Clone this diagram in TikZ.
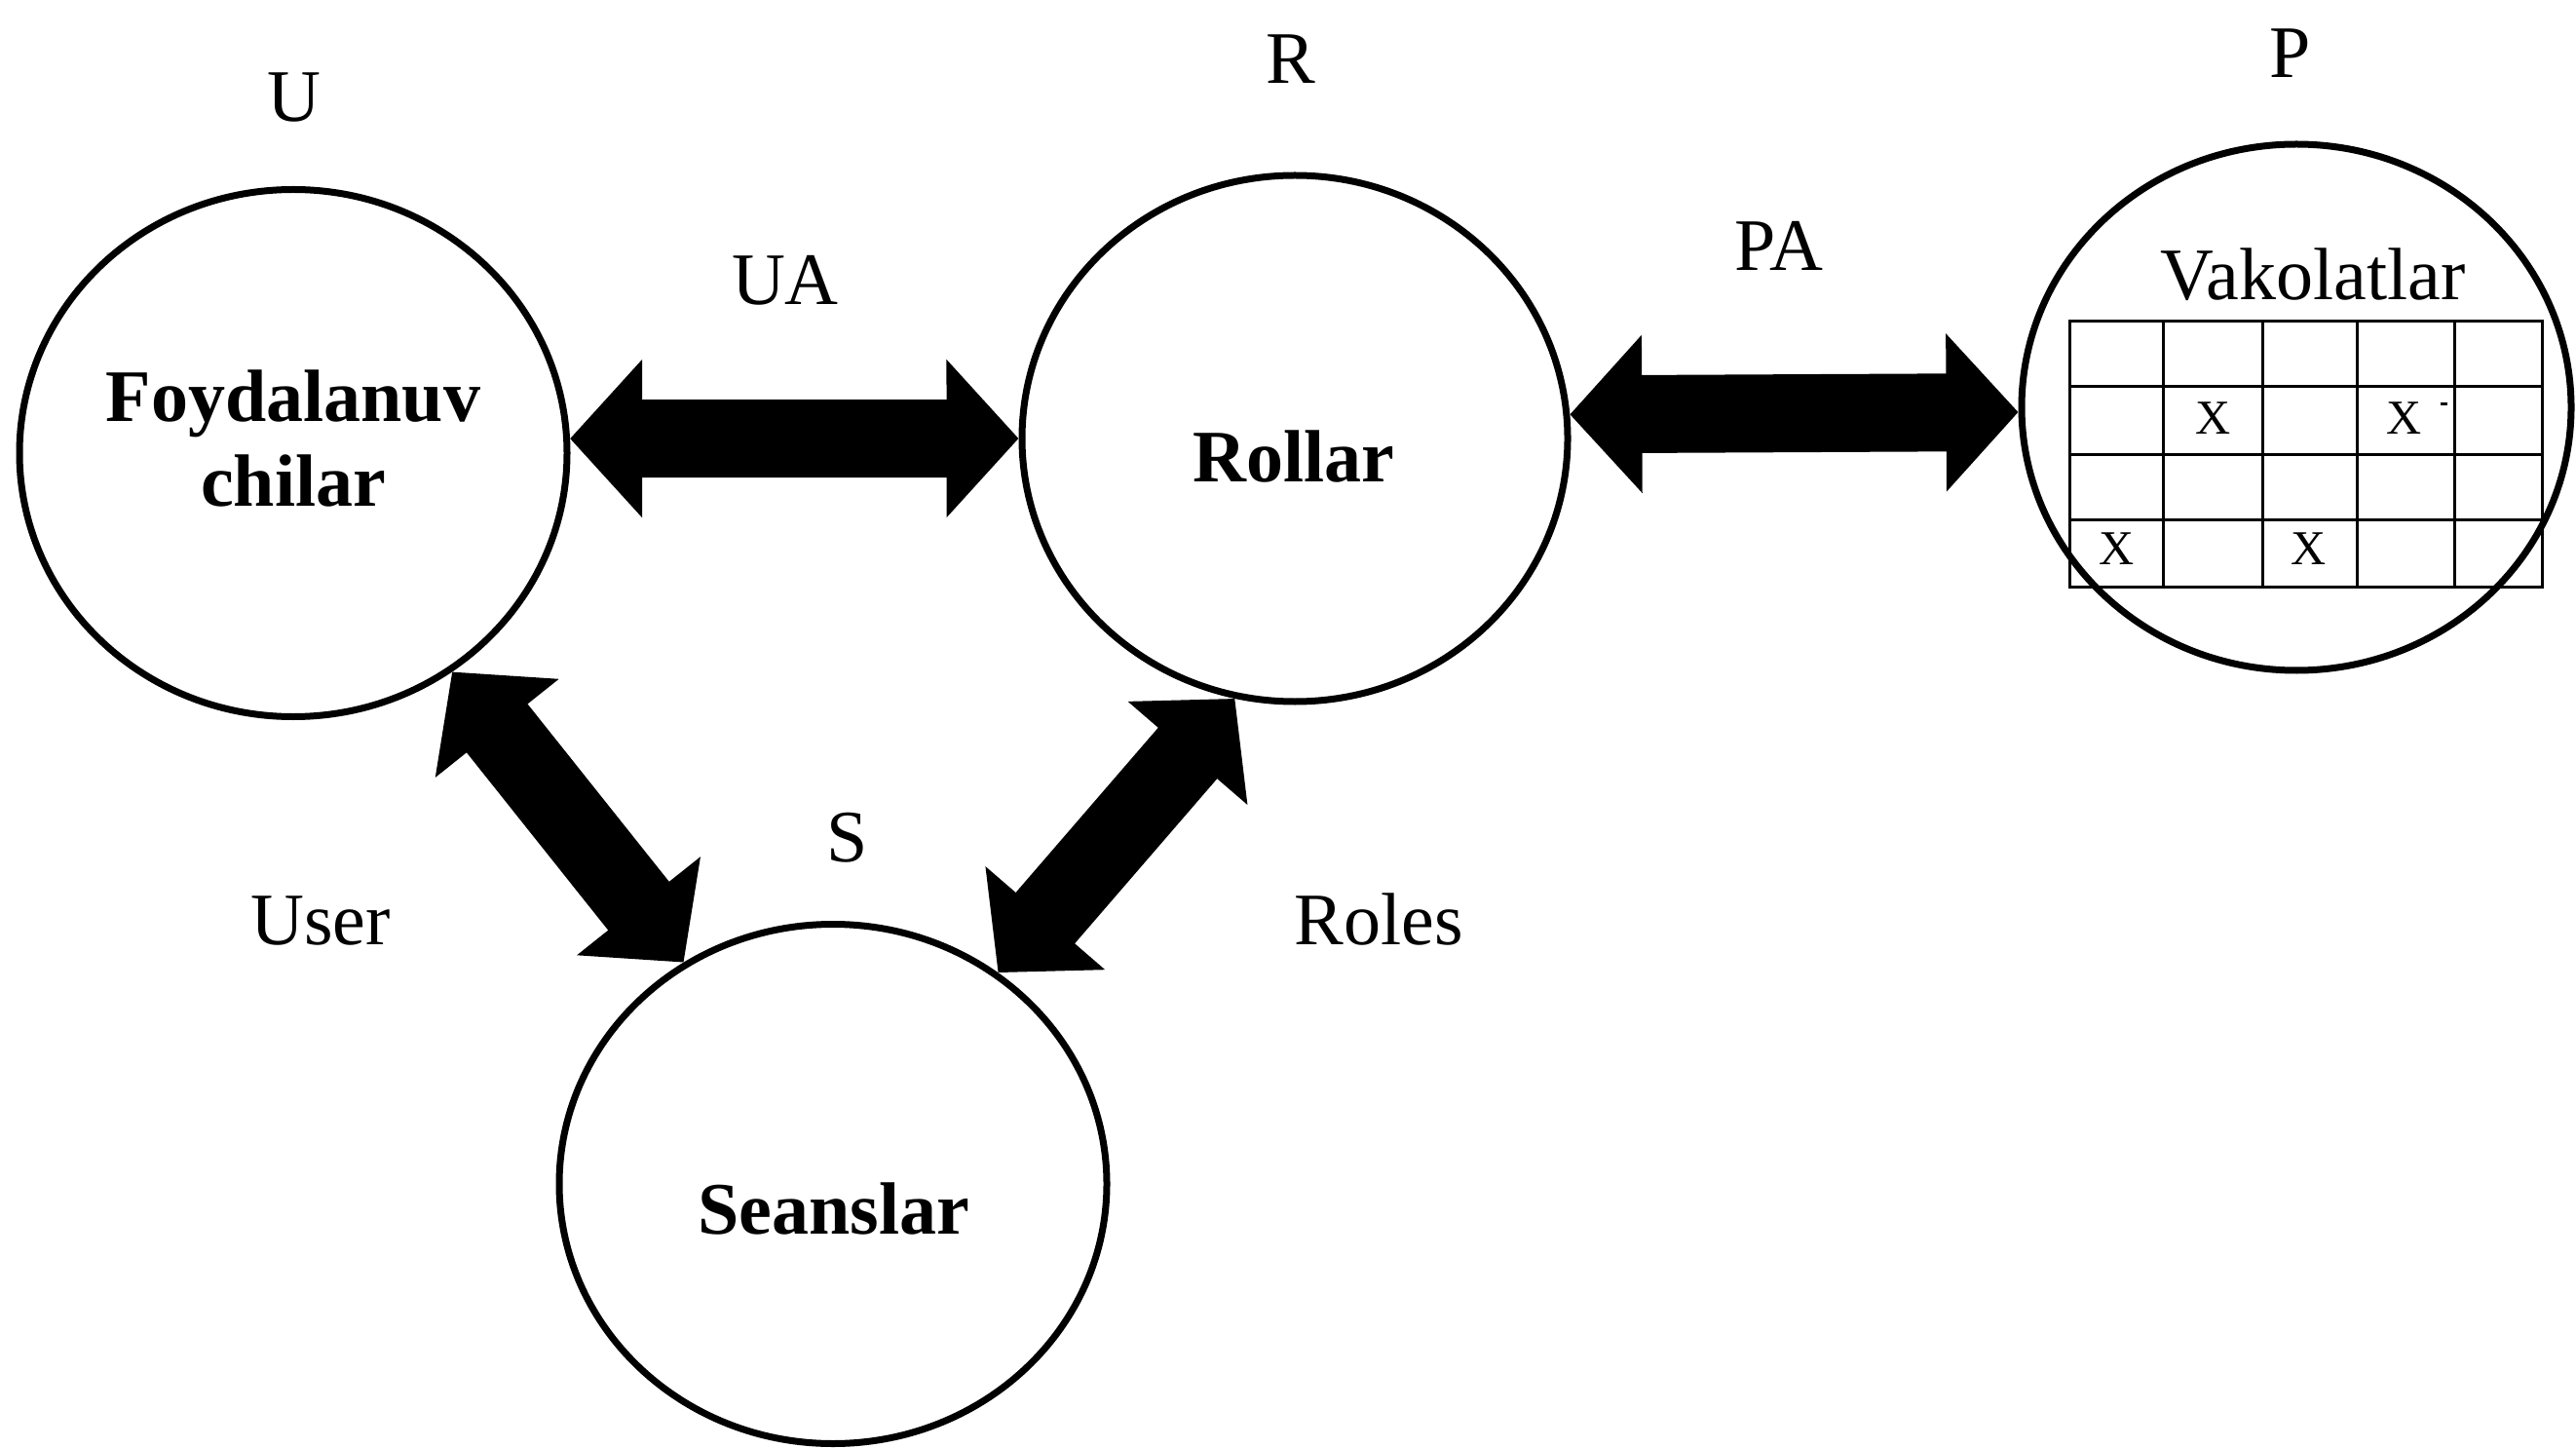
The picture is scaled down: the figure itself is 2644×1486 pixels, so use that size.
\documentclass[tikz,border=0pt]{standalone}
\usepackage{fontspec}
\setmainfont{Liberation Serif}
\usetikzlibrary{shapes.geometric, arrows.meta}
\begin{document}
\begin{tikzpicture}[x=0.25pt, y=-0.25pt,
  ent/.style={ellipse, draw, line width=1.75pt, inner sep=0pt},
  lbl/.style={font=\fontsize{19pt}{22pt}\selectfont, inner sep=0pt, anchor=base},
  bld/.style={font=\fontsize{19pt}{22pt}\selectfont\bfseries, inner sep=0pt, anchor=base},
  xmark/.style={font=\fontsize{12.5pt}{14pt}\selectfont, inner sep=0pt, anchor=base},
  blockarrow/.style={line width=20pt, {Triangle[length=18.5pt, width=39.5pt]}-{Triangle[length=18.5pt, width=39.5pt]}},
  gridline/.style={line width=0.75pt}
]
\useasboundingbox (0,0) rectangle (2644,1486);

% entities
\node[ent, minimum width=140.5pt, minimum height=135.25pt] (U) at (301,465) {};
\node[ent, minimum width=140pt, minimum height=135pt] (R) at (1329,450) {};
\node[ent, minimum width=141pt, minimum height=135pt] (P) at (2357,418) {};
\node[ent, minimum width=140.5pt, minimum height=133.25pt] (S) at (855,1215) {};

% texts inside
\node[bld] (Ut1) at (301,433) {Foydalanuv};
\node[bld] (Ut2) at (301,520) {chilar};
\node[bld] (Rt) at (1328,495) {Rollar};
\node[bld] (St) at (856,1266) {Seanslar};
\node[lbl] (Pt) at (2374,308) {Vakolatlar};

% outside labels
\node[lbl] (Ul) at (302,125) {U};
\node[lbl] (Rl) at (1325,86) {R};
\node[lbl] (Pl) at (2351,80) {P};
\node[lbl] (Sl) at (870,884) {S};
\node[lbl] (UAl) at (806,313) {UA};
\node[lbl] (PAl) at (1826,278) {PA};
\node[lbl] (Userl) at (329,969) {User};
\node[lbl] (Rolesl) at (1415,969) {Roles};

% permission grid
\draw[gridline] (2124,330) rectangle (2609,602);
\foreach \gx in {2220,2322,2419,2519} \draw[gridline] (\gx,330) -- (\gx,602);
\foreach \gy in {397,467,534} \draw[gridline] (2124,\gy) -- (2609,\gy);
\node[xmark] (x1) at (2272,446) {X};
\node[xmark] (x2) at (2468,446) {X};
\node[xmark] (x3) at (2173,580) {X};
\node[xmark] (x4) at (2370,580) {X};
\draw[line width=0.75pt] (2505,415) -- (2512,415);

% block arrows
\draw[blockarrow] (U.3) -- (R.180);
\draw[blockarrow] (R.5.5) -- (P.181.3);
\draw[blockarrow] (U.-54.5) -- (S.124.4);
\draw[blockarrow] (R.-103) -- (S.52.4);
\end{tikzpicture}
\end{document}
